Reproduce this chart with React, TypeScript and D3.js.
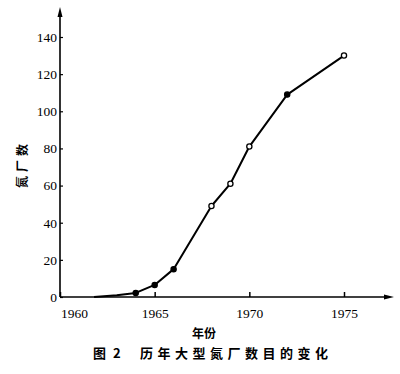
import { useEffect, useRef } from "react";
import { select, scaleLinear, axisBottom, axisLeft, line, curveLinear } from "d3";

// values (number of large ammonia plants per year)
const years = [1961.8, 1963, 1964, 1965, 1966, 1968, 1969, 1970, 1972, 1975];
const plants = [0, 0.9, 2.2, 6.5, 15, 49, 61, 81, 109, 130];
// marker style per point: "f" filled, "o" hollow, "" none
const markers = ["", "", "f", "f", "f", "o", "o", "o", "f", "o"];

const xTicks = [1960, 1965, 1970, 1975];
const yTicks = [0, 20, 40, 60, 80, 100, 120, 140];

const yLabel = "氮厂数";
const xLabel = "年份";
const captionNo = "图 2";
const captionText = "历年大型氮厂数目的变化";

const width = 400;
const height = 374;
const x0 = 60;
const y0 = 297;

const serif = "'Liberation Serif', 'DejaVu Serif', serif";
const cjk = "'Noto Sans CJK SC', sans-serif";

export default function App() {
  const ref = useRef<SVGSVGElement>(null);

  useEffect(() => {
    if (!ref.current) return;
    const svg = select(ref.current);
    svg.selectAll("*").remove();

    const x = scaleLinear().domain([1960, 1975]).range([x0, 344]);
    const y = scaleLinear().domain([0, 140]).range([y0, 37]);

    // axes lines with arrows
    svg
      .append("line")
      .attr("x1", x0)
      .attr("y1", y0)
      .attr("x2", 390)
      .attr("y2", y0)
      .attr("stroke", "#000")
      .attr("stroke-width", 1.6);
    svg
      .append("path")
      .attr("d", `M394,${y0} L384,${y0 - 2.5} L384,${y0 + 2.5} Z`)
      .attr("fill", "#000");
    svg
      .append("line")
      .attr("x1", x0)
      .attr("y1", y0)
      .attr("x2", x0)
      .attr("y2", 12)
      .attr("stroke", "#000")
      .attr("stroke-width", 1.6);
    svg
      .append("path")
      .attr("d", `M${x0},7 L${x0 - 2.5},17 L${x0 + 2.5},17 Z`)
      .attr("fill", "#000");

    // x axis
    const gx = svg
      .append("g")
      .attr("transform", `translate(0, ${y0})`)
      .call(
        axisBottom(x)
          .tickValues(xTicks)
          .tickSize(-5)
          .tickPadding(11)
          .tickFormat((d) => String(d))
      );
    gx.select(".domain").remove();
    gx.selectAll(".tick line").attr("stroke-width", 1.5);
    gx.selectAll(".tick text")
      .attr("font-family", serif)
      .attr("font-size", "13.5px")
      .attr("fill", "#000")
      .attr("dx", (d) => ((d as number) === 1960 ? 14 : 0));

    // y axis
    const gy = svg
      .append("g")
      .attr("transform", `translate(${x0}, 0)`)
      .call(
        axisLeft(y)
          .tickValues(yTicks)
          .tickSize(-3)
          .tickPadding(3)
          .tickFormat((d) => String(d))
      );
    gy.select(".domain").remove();
    gy.selectAll(".tick line").attr("stroke-width", 1.2);
    gy.selectAll(".tick text")
      .attr("font-family", serif)
      .attr("font-size", "13.5px")
      .attr("fill", "#000");

    // curve
    const pts = years.map((yr, i) => [yr, plants[i]] as [number, number]);
    const path = line<[number, number]>()
      .x((d) => x(d[0]))
      .y((d) => y(d[1]))
      .curve(curveLinear);
    svg
      .append("path")
      .attr("d", path(pts) as string)
      .attr("fill", "none")
      .attr("stroke", "#000")
      .attr("stroke-width", 2)
      .attr("stroke-linejoin", "round");

    // markers
    svg
      .selectAll(".pt")
      .data(pts.filter((_, i) => markers[i] !== ""))
      .enter()
      .append("circle")
      .attr("class", "pt")
      .attr("cx", (d) => x(d[0]))
      .attr("cy", (d) => y(d[1]))
      .attr("r", 2.6)
      .attr("fill", (d) => (markers[years.indexOf(d[0])] === "f" ? "#000" : "#fff"))
      .attr("stroke", "#000")
      .attr("stroke-width", 1.3);

    // labels
    svg
      .append("text")
      .attr("transform", "translate(27, 164) rotate(-90)")
      .attr("text-anchor", "middle")
      .attr("font-family", cjk)
      .attr("font-weight", "700")
      .attr("font-size", "12px")
      .attr("letter-spacing", "4px")
      .text(yLabel);

    svg
      .append("text")
      .attr("x", 204)
      .attr("y", 338)
      .attr("text-anchor", "middle")
      .attr("font-family", cjk)
      .attr("font-weight", "700")
      .attr("font-size", "12px")
      .text(xLabel);

    svg
      .append("text")
      .attr("x", 93)
      .attr("y", 358)
      .attr("font-family", cjk)
      .attr("font-weight", "700")
      .attr("font-size", "13px")
      .attr("letter-spacing", "2px")
      .text(captionNo);

    svg
      .append("text")
      .attr("x", 140)
      .attr("y", 358)
      .attr("font-family", cjk)
      .attr("font-weight", "700")
      .attr("font-size", "13px")
      .attr("letter-spacing", "4.5px")
      .text(captionText);
  }, []);

  return (
    <svg
      ref={ref}
      width={width}
      height={height}
      style={{ position: "absolute", left: 0, top: 0, background: "#fff" }}
    ></svg>
  );
}
